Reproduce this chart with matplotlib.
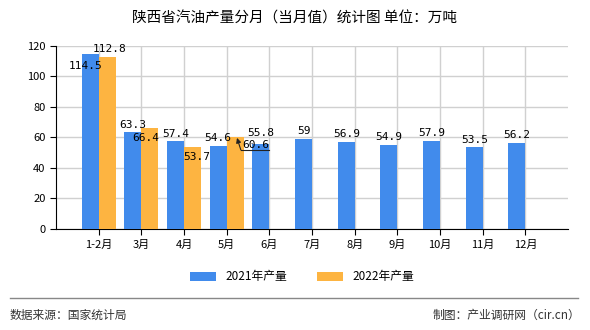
import matplotlib
matplotlib.use("Agg")
import matplotlib.pyplot as plt
import numpy as np

plt.rcParams["font.family"] = ["Noto Sans CJK SC", "DejaVu Sans"]

months = ["1-2月", "3月", "4月", "5月", "6月", "7月", "8月", "9月", "10月", "11月", "12月"]
prod_2021 = [114.5, 63.3, 57.4, 54.6, 55.8, 59, 56.9, 54.9, 57.9, 53.5, 56.2]
prod_2022 = [112.8, 66.4, 53.7, 60.6]

BLUE = "#418bec"
ORANGE = "#fdb441"

fig = plt.figure(figsize=(5.9, 3.3), dpi=100)
ax = fig.add_axes([0.095, 0.306, 0.868, 0.555])

x = np.arange(len(months))
w = 0.4
ax.bar(x[:len(prod_2021)] - w / 2, prod_2021, width=w, color=BLUE, zorder=3, label="2021年产量")
ax.bar(x[:len(prod_2022)] + w / 2, prod_2022, width=w, color=ORANGE, zorder=3, label="2022年产量")

# label offsets (points) where labels collide in the original
off21 = {0: (-3, -12), 4: (0, 4.5)}
off22 = {0: (2, 2), 1: (-3, -11), 2: (3, -11)}
for i, v in enumerate(prod_2021):
    dx, dy = off21.get(i, (0, 2))
    ax.annotate(f"{v:g}", (x[i] - w / 2, v), xytext=(dx, dy), textcoords="offset points",
                ha="center", va="bottom", fontsize=8, family=["DejaVu Sans Mono"], zorder=5)
for i, v in enumerate(prod_2022):
    if i == 3:
        continue
    dx, dy = off22.get(i, (0, 2))
    ax.annotate(f"{v:g}", (x[i] + w / 2, v), xytext=(dx, dy), textcoords="offset points",
                ha="center", va="bottom", fontsize=8, family=["DejaVu Sans Mono"], zorder=5)

# 60.6 label pushed right with a leader line
i5 = 3
v = prod_2022[i5]
tip = (x[i5] + 0.24, v - 0.9)
bend = (x[i5] + 0.33, v - 8.8)
ax.annotate("", xy=tip, xytext=bend,
            arrowprops=dict(arrowstyle="-|>", color="#222222", lw=0.8,
                            shrinkA=0, shrinkB=0, mutation_scale=7), zorder=6)
ax.plot([bend[0], x[i5] + 0.99], [bend[1], bend[1]], color="#222222", lw=0.8, zorder=6)
ax.text(x[i5] + 0.68, bend[1] + 0.2, f"{v:g}", ha="center", va="bottom", fontsize=8,
        family=["DejaVu Sans Mono"], zorder=6)

ax.set_xlim(-1, len(months))
ax.set_ylim(0, 120)
ax.set_yticks(range(0, 121, 20))
ax.set_xticks(x)
ax.set_xticklabels(months)
ax.tick_params(labelsize=8, length=4, color="black")
ax.grid(True, axis="both", color="#d0d0d0", lw=1, zorder=0)
for s in ["top", "right"]:
    ax.spines[s].set_visible(False)
ax.spines["left"].set_color("black")
ax.spines["bottom"].set_color("black")

fig.text(0.5, 0.945, "陕西省汽油产量分月（当月值）统计图 单位：万吨", ha="center", va="center", fontsize=10.5)

ax.legend(loc="upper center", bbox_to_anchor=(0.48, -0.2), ncol=2, frameon=False,
          fontsize=8.5, handlelength=2.2, handleheight=0.8, columnspacing=2.5, borderaxespad=0)

fig.add_artist(plt.Line2D([0.017, 0.98], [0.097, 0.097], color="#888888", lw=1))
fig.text(0.017, 0.045, "数据来源：国家统计局", ha="left", va="center", fontsize=8.5, color="#333333")
fig.text(0.983, 0.045, "制图：产业调研网（cir.cn）", ha="right", va="center", fontsize=8.5, color="#333333")

fig.savefig("out.png", dpi=100)
